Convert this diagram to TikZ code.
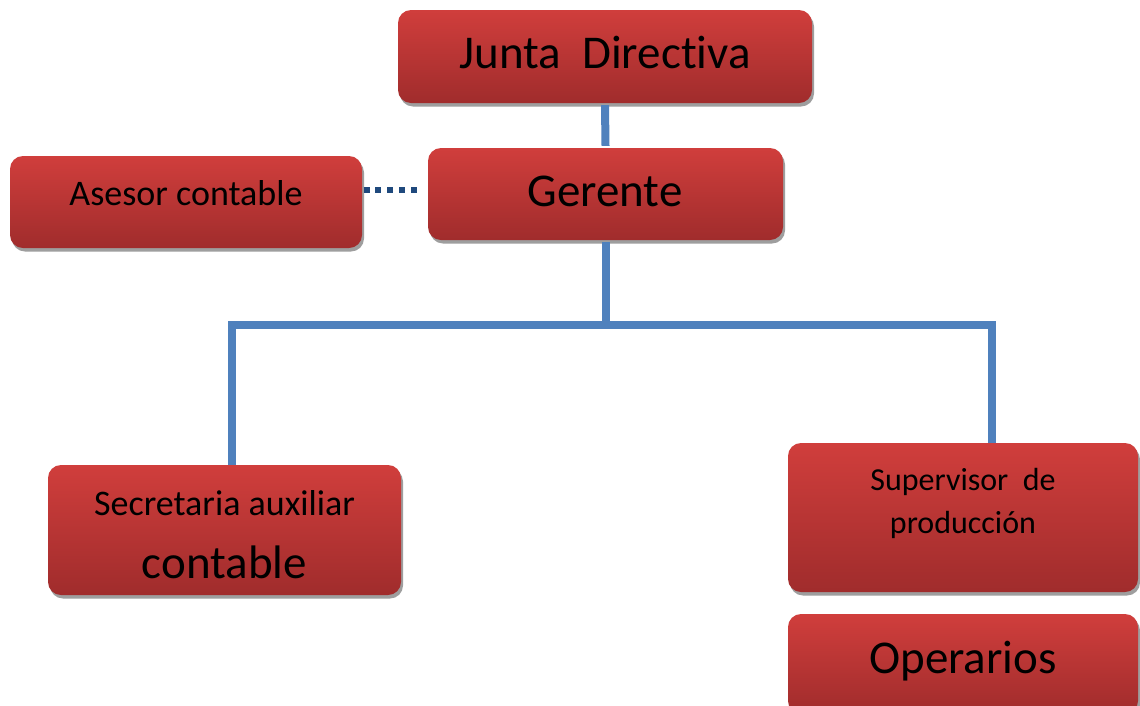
\documentclass[tikz,border=0pt]{standalone}
\usepackage{fontspec}
\setmainfont{Carlito}[Ligatures=NoCommon]
\usetikzlibrary{shadows}
\definecolor{boxtop}{RGB}{208,62,60}
\definecolor{boxbot}{RGB}{160,44,44}
\definecolor{linkblue}{RGB}{79,129,189}
\definecolor{dotblue}{RGB}{31,73,125}
\tikzset{
  orgbox/.style={rectangle, rounded corners=13pt, top color=boxtop, bottom color=boxbot,
    inner sep=0pt, draw=none,
    drop shadow={shadow xshift=2pt, shadow yshift=-3.5pt, fill=black!38, opacity=1}},
  link/.style={draw=linkblue, line width=8pt},
  dotlink/.style={draw=dotblue, line width=6pt, dash pattern=on 6pt off 5.9pt},
  bigtext/.style={anchor=base, inner sep=0pt, font=\fontsize{47}{56}\selectfont},
  midtext/.style={anchor=base, inner sep=0pt, font=\fontsize{36}{43}\selectfont},
  smalltext/.style={anchor=base, inner sep=0pt, font=\fontsize{32}{38}\selectfont},
}
\begin{document}
\begin{tikzpicture}[x=1pt,y=-1pt]
\useasboundingbox (0,0) rectangle (1140,705);
\clip (0,0) rectangle (1140,705);
\fill[white] (0,0) rectangle (1140,705);
\coordinate (hub) at (605.5,325);
\coordinate (lc) at (232,325);
\coordinate (rc) at (992,325);
% boxes
\node[orgbox, minimum width=414pt, minimum height=93pt] (junta) at (605,56.5) {};
\node[orgbox, minimum width=352pt, minimum height=92pt] (asesor) at (186,202) {};
\node[orgbox, minimum width=355pt, minimum height=92pt] (gerente) at (605.5,194) {};
\node[orgbox, minimum width=353pt, minimum height=130pt] (secre) at (224.5,530) {};
\node[orgbox, minimum width=350pt, minimum height=149pt] (super) at (963,517.5) {};
\node[orgbox, minimum width=350pt, minimum height=100pt] (oper) at (963,664) {};
% texts
\node[bigtext] (tjunta) at (605,68) {Junta\ \ Directiva};
\node[midtext] (tasesor) at (186,205) {Asesor contable};
\node[bigtext] (tgerente) at (605,206) {Gerente};
\node[midtext] (tsecre1) at (224.5,515) {Secretaria auxiliar};
\node[bigtext] (tsecre2) at (224.5,578) {contable};
\node[smalltext] (tsuper1) at (963,490) {Supervisor\ \ de};
\node[smalltext] (tsuper2) at (963,533) {producción};
\node[bigtext] (toper) at (963,673) {Operarios};
% connectors
\draw[link] ([yshift=-2pt]junta.south) -- ([yshift=2pt]gerente.north);
\draw[link] ([yshift=-2pt]gerente.south) -- (hub);
\draw[link] (lc |- secre.north) -- (lc) -- (rc) -- (rc |- super.north);
\draw[dotlink] ([shift={(1.3,-12)}]asesor.east) -- ([shift={(-10,-4)}]gerente.west);
\end{tikzpicture}
\end{document}
